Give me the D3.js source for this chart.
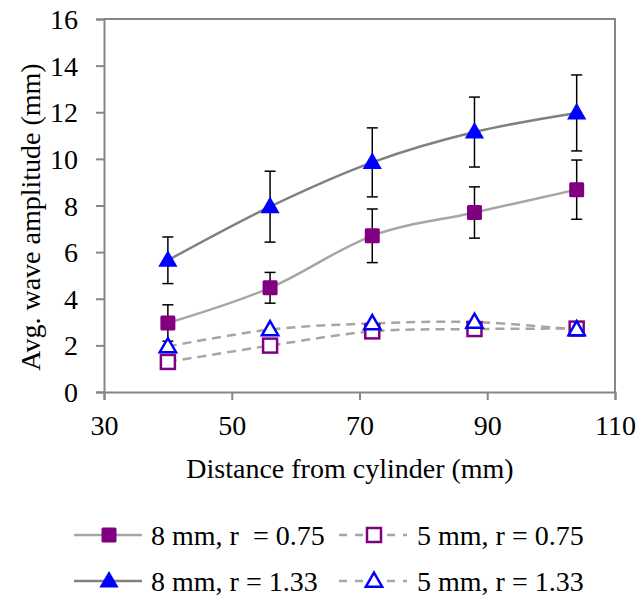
<!DOCTYPE html>
<html>
<head>
<meta charset="utf-8">
<script src="https://cdn.jsdelivr.net/npm/d3@7"></script>
<style>
  body { margin: 0; background: #fff; }
  svg, text { font-family: "Liberation Serif", "Times New Roman", serif; }
  text { fill: #000; }
</style>
</head>
<body>
<svg id="chart" width="636" height="601"></svg>
<script>
// distances (mm)
const distances = [40, 56, 72, 88, 104];

// 8 mm, r = 0.75
const big075 = [2.96, 4.47, 6.7, 7.7, 8.68];
const big075Err = [0.78, 0.66, 1.15, 1.1, 1.27];
// 8 mm, r = 1.33
const big133 = [5.65, 7.95, 9.85, 11.15, 11.97];
const big133Err = [1.0, 1.52, 1.48, 1.5, 1.63];
// 5 mm, r = 0.75
const small075 = [1.29, 1.99, 2.6, 2.7, 2.72];
// 5 mm, r = 1.33
const small133 = [1.95, 2.68, 2.94, 3.0, 2.68];

const xTicks = [30, 50, 70, 90, 110];
const yTicks = [0, 2, 4, 6, 8, 10, 12, 14, 16];

const svg = d3.select("#chart");
const plotL = 104, plotR = 615, plotT = 19, plotB = 392;

const x = d3.scaleLinear().domain([30, 110]).range([plotL, plotR]);
const y = d3.scaleLinear().domain([0, 16]).range([plotB, plotT]);

const axisColor = "#868686";

// frame (top + right)
svg.append("path")
  .attr("d", `M${plotL},${plotT}H${plotR}V${plotB}`)
  .attr("fill", "none").attr("stroke", axisColor).attr("stroke-width", 2);

const xAxis = svg.append("g").attr("transform", `translate(0,${plotB})`)
  .call(d3.axisBottom(x).tickValues(xTicks).tickSize(8).tickPadding(15));
const yAxis = svg.append("g").attr("transform", `translate(${plotL},0)`)
  .call(d3.axisLeft(y).tickValues(yTicks).tickSize(8).tickPadding(18));

[xAxis, yAxis].forEach(function(a){
  a.attr("font-family", "Liberation Serif").attr("font-size", 28);
  a.select(".domain").attr("stroke", axisColor).attr("stroke-width", 2);
  a.selectAll(".tick line").attr("stroke", axisColor).attr("stroke-width", 2);
  a.selectAll("text").style("font-family", "'Liberation Serif', serif").style("font-size", "28px").attr("fill", "#000");
});
xAxis.selectAll("text").attr("dy", "0.71em");
yAxis.selectAll("text").attr("dy", "0.34em");

svg.append("text")
  .attr("x", 350).attr("y", 478)
  .attr("text-anchor", "middle").style("font-size", "28px")
  .text("Distance from cylinder (mm)");

svg.append("text")
  .attr("transform", "translate(40,217) rotate(-90)")
  .attr("text-anchor", "middle").style("font-size", "28px")
  .text("Avg. wave amplitude (mm)");

const series = [
  { name: "8 mm, r  = 0.75", vals: big075, err: big075Err, line: "#a6a6a6", dash: null, marker: "square", fill: "#800080", stroke: "#800080" },
  { name: "5 mm, r = 0.75", vals: small075, err: null, line: "#a6a6a6", dash: "9,6", marker: "square", fill: "#fff", stroke: "#800080" },
  { name: "8 mm, r = 1.33", vals: big133, err: big133Err, line: "#808080", dash: null, marker: "triangle", fill: "#0000ff", stroke: "#0000ff" },
  { name: "5 mm, r = 1.33", vals: small133, err: null, line: "#a6a6a6", dash: "9,6", marker: "triangle", fill: "#fff", stroke: "#0000ff" }
];

const line = d3.line().curve(d3.curveCatmullRom.alpha(0))
  .x(d => x(d[0])).y(d => y(d[1]));

function drawMarker(g, type, filled, fill, stroke) {
  if (type === "square") {
    const s = filled ? 15 : 14;
    g.append("rect").attr("x", -s / 2).attr("y", -s / 2).attr("width", s).attr("height", s)
      .attr("rx", filled ? 1.5 : 0)
      .attr("fill", fill).attr("stroke", stroke).attr("stroke-width", filled ? 0 : 2.5);
  } else {
    const sym = d3.symbol().type(d3.symbolTriangle).size(filled ? 160 : 115);
    g.append("path").attr("d", sym()).attr("transform", "translate(0,1)")
      .attr("fill", fill).attr("stroke", stroke).attr("stroke-width", filled ? 0 : 2.5)
      .attr("stroke-linejoin", "miter");
  }
}

// lines first
series.forEach(function(s){
  const pts = distances.map((d, i) => [d, s.vals[i]]);
  svg.append("path").datum(pts).attr("d", line)
    .attr("fill", "none").attr("stroke", s.line).attr("stroke-width", 2.5)
    .attr("stroke-dasharray", s.dash);
});

// error bars
series.filter(s => s.err).forEach(function(s){
  const g = svg.append("g").attr("stroke", "#000").attr("stroke-width", 1.5);
  distances.forEach(function(d, i){
    const cx = x(d), y1 = y(s.vals[i] + s.err[i]), y2 = y(s.vals[i] - s.err[i]);
    g.append("line").attr("x1", cx).attr("x2", cx).attr("y1", y1).attr("y2", y2);
    g.append("line").attr("x1", cx - 5.5).attr("x2", cx + 5.5).attr("y1", y1).attr("y2", y1);
    g.append("line").attr("x1", cx - 5.5).attr("x2", cx + 5.5).attr("y1", y2).attr("y2", y2);
  });
});

// markers
series.forEach(function(s){
  const filled = s.fill !== "#fff";
  distances.forEach(function(d, i){
    const g = svg.append("g").attr("transform", `translate(${x(d)},${y(s.vals[i])})`);
    drawMarker(g, s.marker, filled, s.fill, s.stroke);
  });
});

// legend
const legendPos = [[74, 535], [339, 535], [74, 581], [339, 581]];
const textX = [151, 417];
series.forEach(function(s, i){
  const [lx, ly] = legendPos[i];
  const g = svg.append("g");
  g.append("line").attr("x1", lx).attr("x2", lx + 68).attr("y1", ly).attr("y2", ly)
    .attr("stroke", s.line).attr("stroke-width", 2.5).attr("stroke-dasharray", s.dash ? "8,8" : null);
  const m = g.append("g").attr("transform", `translate(${lx + 35},${ly})`);
  drawMarker(m, s.marker, s.fill !== "#fff", s.fill, s.stroke);
  g.append("text").attr("x", textX[i % 2]).attr("y", ly).attr("dy", "0.35em")
    .style("font-size", "28px").style("white-space", "pre").text(s.name);
});
</script>
</body>
</html>
